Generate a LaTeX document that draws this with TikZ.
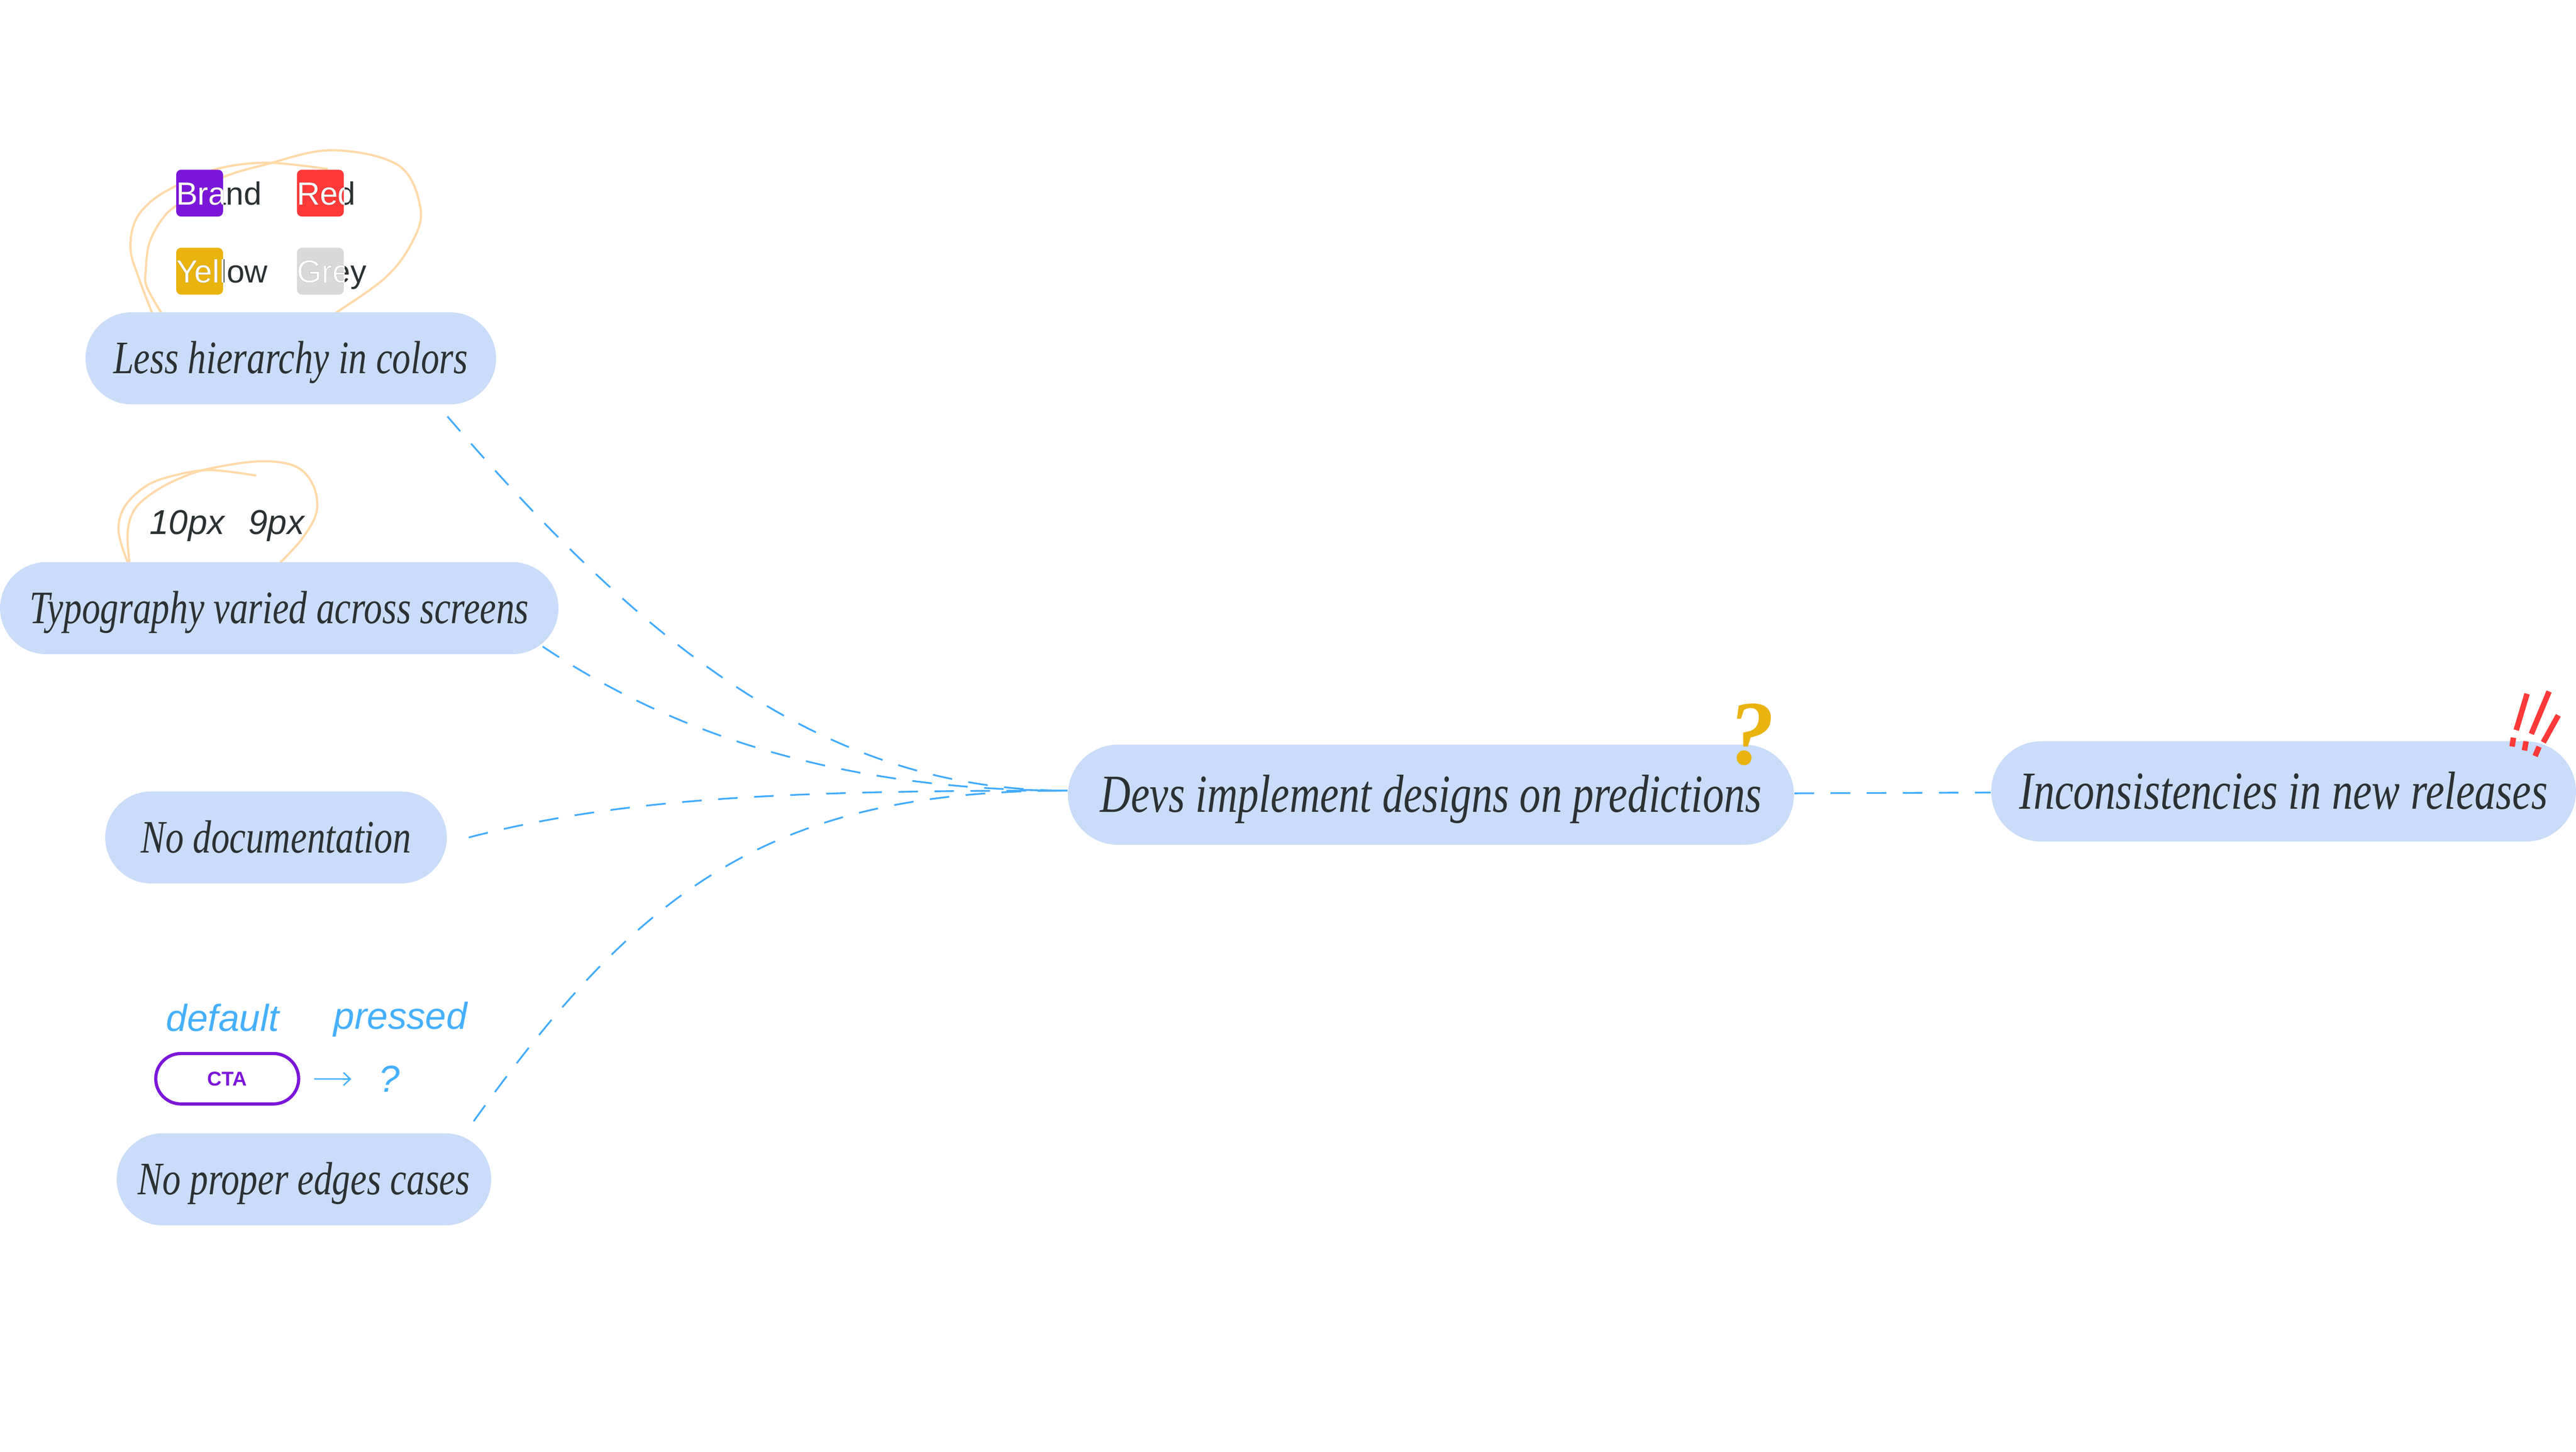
\documentclass[tikz,border=0pt]{standalone}
\usepackage{fontspec}
\usepackage{tikz}
\usetikzlibrary{arrows.meta}

\newfontfamily\pillserif{Liberation Serif}[FakeStretch=0.79]
\newfontfamily\markserif{Liberation Serif}
\newfontfamily\chipsans{Liberation Sans}

\definecolor{pillblue}{HTML}{C9DCF9}
\definecolor{ink}{HTML}{2B3133}
\definecolor{dashblue}{HTML}{42ABFF}
\definecolor{stateblue}{HTML}{45B0FF}
\definecolor{peach}{HTML}{FFD9A8}
\definecolor{brandpurple}{HTML}{7B16D9}
\definecolor{brandred}{HTML}{FF3838}
\definecolor{brandyellow}{HTML}{EAB30E}
\definecolor{brandgrey}{HTML}{D9D9D9}

\begin{document}
\begin{tikzpicture}
  [x=0.02cm,y=-0.02cm,
   pill/.style={fill=pillblue,rounded corners=0.56cm,minimum height=1.12cm,inner sep=0pt,
     text=ink,text height=10.5pt,text depth=0pt,font=\pillserif\itshape\fontsize{16.1}{18}\selectfont},
   bigpill/.style={pill,rounded corners=0.61cm,minimum height=1.22cm,text height=12.1pt,
     font=\pillserif\itshape\fontsize{18.55}{21}\selectfont},
   link/.style={draw=dashblue,line width=0.6pt,dash pattern=on 6.8pt off 5.7pt},
   scribble/.style={draw=peach,line width=0.75pt,line cap=round},
   chip/.style={minimum width=0.57cm,minimum height=0.57cm,inner sep=0pt,rounded corners=0.06cm},
   chiptext/.style={anchor=base west,inner sep=0pt,font=\chipsans\fontsize{11.1}{13}\selectfont},
   sizetext/.style={anchor=base west,inner sep=0pt,text=ink,font=\chipsans\itshape\fontsize{11.95}{14}\selectfont},
   statetext/.style={anchor=base west,inner sep=0pt,text=stateblue,font=\chipsans\itshape\fontsize{13}{15}\selectfont},
   ctabox/.style={draw=brandpurple,line width=1.1pt,minimum width=1.74cm,minimum height=0.614cm,
     rounded corners=0.307cm,inner sep=0pt,text=brandpurple,font=\chipsans\bfseries\fontsize{6.9}{8}\selectfont},
   alarm/.style={draw=brandred,line width=1.9pt}]

  \path[use as bounding box,fill=white] (0,0) rectangle (1568,883.3);

  % scribbles behind the pills
  \draw[scribble] plot[smooth,tension=0.6] coordinates {(98,190) (89.2,174.1) (88.8,163.6) (90.9,147.9)
    (98.1,134.2) (107.7,124.8) (133,109) (162,100) (202,91.4) (242.5,100.6) (256,127) (250.5,148)
    (234.5,169) (204.8,190)};
  \draw[scribble] plot[smooth,tension=0.6] coordinates {(92.4,190) (84.4,168.9) (79.6,153) (81.2,137.4)
    (88.4,125.8) (102.9,115.3) (130,103.3) (162,99) (199,102.8)};
  \draw[scribble] plot[smooth,tension=0.6] coordinates {(77.7,342) (72.2,323.6) (75.5,308.9) (87.6,296.6)
    (102.9,290.1) (127,286) (155.4,289.3)};
  \draw[scribble] plot[smooth,tension=0.6] coordinates {(78.8,342) (77.7,323.6) (82.1,309.7) (94.1,299.1)
    (109.5,291) (127,285.2) (157.6,280.7) (179.5,283.6) (190.5,295) (192.7,311.4) (183.9,327.7) (170.8,342)};

  \node[pill,minimum width=5cm] (less) at (177,218) {Less hierarchy in colors};
  \node[pill,minimum width=6.8cm] (typo) at (170,370) {Typography varied across screens};
  \node[pill,minimum width=4.16cm] (nodoc) at (168,509.5) {No documentation};
  \node[pill,minimum width=4.56cm] (edges) at (185,717.5) {No proper edges cases};
  \node[bigpill,minimum width=8.84cm] (devs) at (871,483.5) {Devs implement designs on predictions};
  \node[bigpill,minimum width=7.12cm] (incons) at (1390,481.5) {Inconsistencies in new releases};

  % colour chips
  \foreach \sw/\col/\cx/\cy/\word in {brand/brandpurple/121.5/117.5/Brand,red/brandred/195/117.5/Red,
      yellow/brandyellow/121.5/165/Yellow,grey/brandgrey/195/165/Grey}{
    \node[chip,fill=\col] (\sw) at (\cx,\cy) {};
    \node[chiptext,text=ink] at ([yshift=-0.14cm]\sw.west) {\word};
    \begin{scope}
      \clip[rounded corners=0.06cm] (\sw.south west) rectangle (\sw.north east);
      \node[chiptext,text=white] at ([yshift=-0.14cm]\sw.west) {\word};
    \end{scope}
  }

  \node[sizetext] (ten) at (90.8,325) {10px};
  \node[sizetext] (nine) at (151,325) {9px};

  \node[statetext] (default) at (100.9,627.2) {default};
  \node[statetext] (pressed) at (202.8,626) {pressed};
  \node[ctabox] (cta) at (138.3,656.3) {CTA};
  \node[statetext,anchor=base] (ctaq) at (237,664.5) {?};
  \draw[draw=stateblue,line width=0.5pt,-{Straight Barb[length=2.3pt,width=4.4pt]},
    shorten <=0.17cm,shorten >=0.33cm] (cta) -- (ctaq);

  \node[anchor=base,inner sep=0pt,text=brandyellow,font=\markserif\bfseries\itshape\fontsize{31.6}{32}\selectfont]
    (doubt) at (1066,465) {?};

  \draw[alarm] (1538.2,422.1) -- (1531.6,444.2);
  \draw[alarm] (1529.9,448.8) -- (1529.1,454.2);
  \draw[alarm] (1551.6,420.7) -- (1540.8,446.5);
  \draw[alarm] (1537.6,451) -- (1536.6,456.6);
  \draw[alarm] (1557.2,435.2) -- (1548.1,451.6);
  \draw[alarm] (1545.5,454.3) -- (1543.1,460);

  % dashed connectors
  \coordinate (devsin) at ([yshift=0.05cm]devs.west);
  \coordinate (lessout) at ([xshift=-0.6cm,yshift=-0.14cm]less.south east);
  \coordinate (typoout) at ([xshift=-0.2cm,yshift=0.1cm]typo.south east);
  \coordinate (nodocout) at ([xshift=0.26cm]nodoc.east);
  \coordinate (edgesout) at ([xshift=-0.22cm,yshift=0.14cm]edges.north east);

  \foreach \from/\cax/\cay/\cbx in {lessout/390/390/500,typoout/400/440/500,nodocout/380/485/480,edgesout/390/540/470}
    \draw[link] (\from) .. controls (\cax,\cay) and (\cbx,481) .. (devsin);
  \draw[link] (devs) -- (incons);

\end{tikzpicture}
\end{document}
